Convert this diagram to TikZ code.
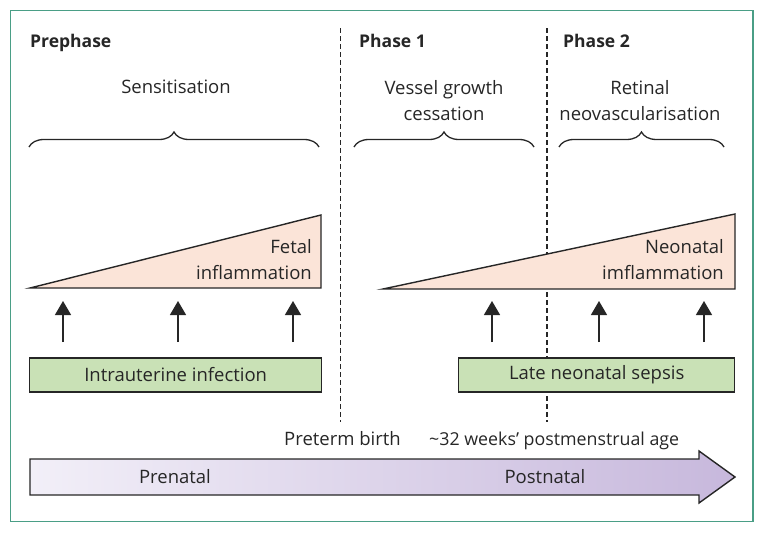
\documentclass[tikz,border=0pt]{standalone}
\usepackage{fontspec}
\setmainfont{Open Sans}
\usetikzlibrary{arrows.meta,decorations.pathreplacing}
\definecolor{framegreen}{HTML}{4A9E86}
\definecolor{inflpeach}{HTML}{FBE4D8}
\definecolor{infgreen}{HTML}{C9E1B6}
\definecolor{timelight}{HTML}{F2EFF8}
\definecolor{timedark}{HTML}{C7B8DC}
\definecolor{ink}{HTML}{262626}
\begin{document}
\begin{tikzpicture}[x=1pt,y=-1pt,
  txt/.style={font=\fontsize{18.5}{21}\selectfont, inner sep=0pt, text=ink},
  head/.style={txt, font=\fontsize{17.5}{20}\selectfont\bfseries, anchor=base west},
  phaseline/.style={draw=ink, line width=1.2pt, dash pattern=on 5pt off 3pt},
  curly/.style={draw=ink, line width=1.3pt, decorate,
    decoration={brace, amplitude=15pt}},
  wedge/.style={draw=ink, line width=1.4pt, fill=inflpeach, line join=miter},
  infbox/.style={txt, draw=ink, line width=1.4pt, fill=infgreen,
    minimum height=34pt, anchor=west},
  trigger/.style={draw=ink, line width=1.4pt, -{Triangle[width=16pt,length=14pt]}}]
\useasboundingbox (0,0) rectangle (764,533);
\draw[framegreen, line width=1.3pt] (10.5,10.5) rectangle (753,521.5);

% phase borders
\coordinate (birthtop) at (340.5,28);
\coordinate (birthbot) at (340.5,422);
\coordinate (pmatop) at (547,28);
\coordinate (pmabot) at (547,422);
\draw[phaseline] (birthtop) -- (birthbot);
\draw[phaseline] (pmatop) -- (pmabot);

% headings
\node[head] (prephase) at (30,47) {Prephase};
\node[head] (phase1) at (359,47) {Phase 1};
\node[head] (phase2) at (563,47) {Phase 2};

% braces
\node[txt, anchor=base] (sens) at (176,93.5) {Sensitisation};
\node[txt, anchor=base] (vessel) at (444,94) {Vessel growth};
\node[txt, anchor=base] (cess) at (444,120) {cessation};
\node[txt, anchor=base] (retinal) at (640,94) {Retinal};
\node[txt, anchor=base] (neovasc) at (640,120) {neovascularisation};
\coordinate (b1l) at (29,147);
\coordinate (b1r) at (319,147);
\coordinate (b2l) at (354,147);
\coordinate (b2r) at (534,147);
\coordinate (b3l) at (559,147);
\coordinate (b3r) at (724,147);
\draw[curly] (b1l) -- (b1r);
\draw[curly] (b2l) -- (b2r);
\draw[curly] (b3l) -- (b3r);

% inflammation wedges
\coordinate (fetl) at (30,288);
\coordinate (fettop) at (321,215);
\coordinate (fetbot) at (321,288);
\draw[wedge] (fetl) -- (fettop) -- (fetbot) -- cycle;
\node[txt, anchor=base east] (fetal) at (312,253) {Fetal};
\node[txt, anchor=base east] (fetinfl) at (312,279) {inflammation};

\coordinate (neol) at (383,289);
\coordinate (neotop) at (735,214);
\coordinate (neobot) at (735,289);
\draw[wedge] (neol) -- (neotop) -- (neobot) -- cycle;
\node[txt, anchor=base east] (neonatal) at (724,253) {Neonatal};
\node[txt, anchor=base east] (neoinfl) at (724,279) {imflammation};

% infections
\node[infbox, minimum width=292pt] (intraut) at (29,375) {Intrauterine infection};
\node[infbox, minimum width=276pt] (sepsis) at (458,375) {Late neonatal sepsis};
\foreach \x [count=\i] in {63,178,293,492,599,704}{
  \coordinate (up\i) at (\x,342);
  \coordinate (tip\i) at (\x,301);
  \draw[trigger] (up\i) -- (tip\i);
}

% time axis
\node[txt, anchor=base west] (birth) at (284,445) {Preterm birth};
\node[txt, anchor=base west, font=\fontsize{17.8}{21}\selectfont] (pma) at (429,445) {\textasciitilde32 weeks’ postmenstrual age};
\draw[draw=ink, line width=1.4pt, left color=timelight, right color=timedark, line join=miter]
  (30,459) -- (699,459) -- (699,451) -- (735,477) -- (699,503) -- (699,495) -- (30,495) -- cycle;
\node[txt, anchor=base] (prenatal) at (175,483) {Prenatal};
\node[txt, anchor=base] (postnatal) at (545,483) {Postnatal};
\end{tikzpicture}
\end{document}
